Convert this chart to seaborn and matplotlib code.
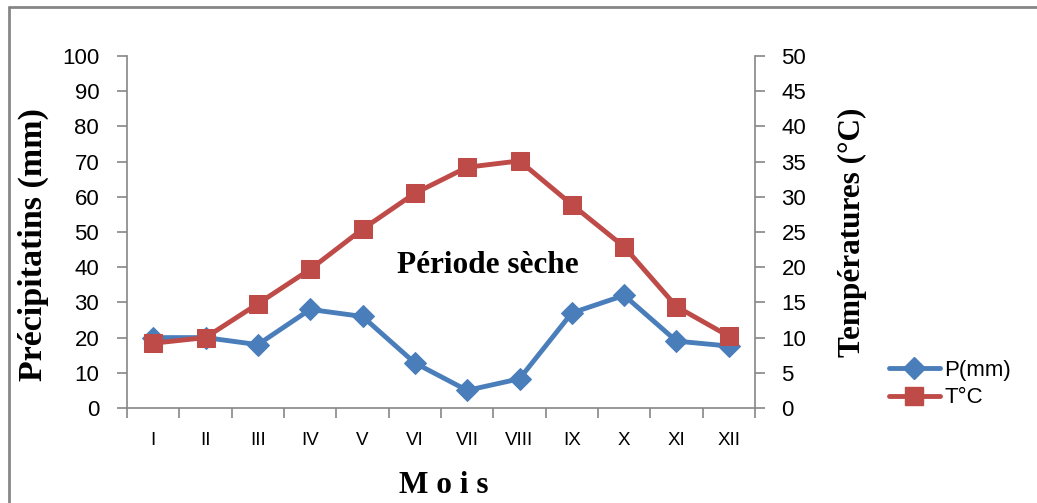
import matplotlib
matplotlib.use("Agg")
import matplotlib.pyplot as plt
import seaborn as sns
import pandas as pd
import numpy as np
from matplotlib.lines import Line2D
from matplotlib.ticker import FixedLocator, NullFormatter

months = ["I", "II", "III", "IV", "V", "VI", "VII", "VIII", "IX", "X", "XI", "XII"]
precip = [20, 20, 18, 28, 26, 12.8, 5, 8.3, 27, 32, 19, 17.6]
temp = [9.2, 10.0, 14.8, 19.7, 25.4, 30.5, 34.2, 35.1, 28.9, 22.9, 14.4, 10.2]

sns.set_theme(style="white")
plt.rcParams['font.family'] = ['Liberation Sans', 'DejaVu Sans']
plt.rcParams['text.color'] = 'black'
plt.rcParams['axes.labelcolor'] = 'black'

blue = "#4A7EBB"
red = "#BE4B48"
gray = "#868686"

df = pd.DataFrame({"x": np.arange(len(months)), "P": precip, "T": temp})

fig = plt.figure(figsize=(10.37, 5.03), dpi=100)
ax = fig.add_axes([127/1037, 1-408/503, 628/1037, 352/503])
ax2 = ax.twinx()

sns.lineplot(data=df, x="x", y="P", ax=ax, color=blue, lw=3.5, marker="D",
             markersize=11, markeredgecolor=blue, legend=False)
sns.lineplot(data=df, x="x", y="T", ax=ax2, color=red, lw=3.5, marker="s",
             markersize=13, markeredgecolor=red, legend=False)
ax2.set_zorder(ax.get_zorder() + 1)
ax.patch.set_visible(False)
ax2.patch.set_visible(False)

ax.set_xlim(-0.5, 11.5)
ax.set_ylim(0, 100)
ax2.set_ylim(0, 50)
ax.set_yticks(np.arange(0, 101, 10))
ax2.set_yticks(np.arange(0, 51, 5))

ax.xaxis.set_major_locator(FixedLocator(np.arange(-0.5, 12, 1)))
ax.xaxis.set_major_formatter(NullFormatter())
ax.xaxis.set_minor_locator(FixedLocator(np.arange(12)))
ax.set_xticklabels(months, minor=True)
ax.tick_params(axis="x", which="major", length=7, width=1.2, color=gray, direction="out", bottom=True)
ax.tick_params(axis="x", which="minor", length=0, pad=17, labelsize=13.5, bottom=True, labelcolor="black")
ax.tick_params(axis="y", length=7, width=1.2, color=gray, direction="out", pad=13, labelsize=16,
               left=True, labelcolor="black")
ax2.tick_params(axis="y", length=7, width=1.2, color=gray, direction="out", pad=12, labelsize=16,
                right=True, labelcolor="black")

for a in (ax, ax2):
    a.spines["top"].set_visible(False)
    for s in ("left", "right", "bottom"):
        a.spines[s].set_color(gray)
        a.spines[s].set_linewidth(1.2)
    a.grid(False)
ax.spines["right"].set_visible(False)
ax2.spines["left"].set_visible(False)
ax2.spines["bottom"].set_visible(False)

serif = dict(family="Liberation Serif", weight="bold", color="black")
ax.set_ylabel("Précipitatins (mm)", fontsize=24.5, **serif)
ax.yaxis.set_label_coords(-0.124, 0.465)
ax2.set_ylabel("Températures (°C)", fontsize=22.5, rotation=90, **serif)
ax2.yaxis.set_label_coords(1.132, 0.5)
ax.set_xlabel("M o i s", fontsize=22.5, **serif)
ax.xaxis.set_label_coords(0.505, -0.18)

ax.text(6.4, 40.5, "Période sèche", fontsize=22.5, ha="center", va="center", **serif)

handles = [Line2D([], [], color=blue, lw=3.5, marker="D", markersize=11),
           Line2D([], [], color=red, lw=3.5, marker="s", markersize=13)]
fig.legend(handles, ["P(mm)", "T°C"], loc="center left",
           bbox_to_anchor=(880/1037, 1-384/503), frameon=False, fontsize=16,
           handlelength=2.3, handletextpad=0.2, labelspacing=0.3, borderaxespad=0,
           labelcolor="black")

# outer frame lines
fig.add_artist(Line2D([8.5/1037, 8.5/1037], [0, 1-6.5/503], transform=fig.transFigure, color=gray, lw=2))
fig.add_artist(Line2D([8.5/1037, 1], [1-6.5/503, 1-6.5/503], transform=fig.transFigure, color=gray, lw=2))

fig.savefig("out.png", dpi=100)
